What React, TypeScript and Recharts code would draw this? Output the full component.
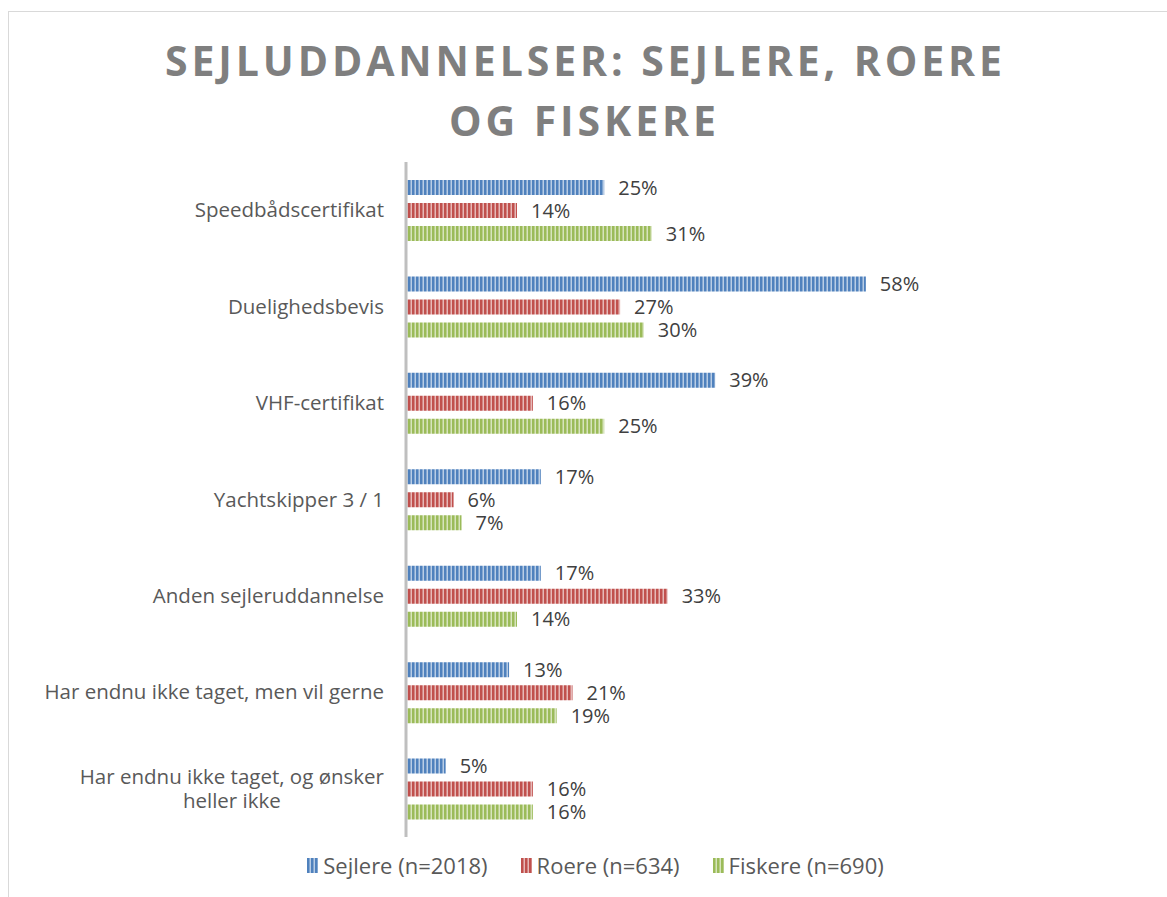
import { Bar, BarChart, LabelList, Legend, XAxis, YAxis } from 'recharts';

const categories = [
  'Speedbådscertifikat',
  'Duelighedsbevis',
  'VHF-certifikat',
  'Yachtskipper 3 / 1',
  'Anden sejleruddannelse',
  'Har endnu ikke taget, men vil gerne',
  'Har endnu ikke taget, og ønsker|heller ikke',
];
const sejlere = [25, 58, 39, 17, 17, 13, 5];
const roere = [14, 27, 16, 6, 33, 21, 16];
const fiskere = [31, 30, 25, 7, 14, 19, 16];

const seriesNames = ['Sejlere (n=2018)', 'Roere (n=634)', 'Fiskere (n=690)'];

const FONT = '"Open Sans", sans-serif';
const CAT_SIZE = 20.5;

const series = [
  { key: 'sejlere', name: seriesNames[0], color: '#4F81BD', light: '#B9CDE5' },
  { key: 'roere', name: seriesNames[1], color: '#C0504D', light: '#E6B9B8' },
  { key: 'fiskere', name: seriesNames[2], color: '#9BBB59', light: '#D7E4BD' },
];

const data = categories.map((cat, i) => ({
  cat,
  sejlere: sejlere[i],
  roere: roere[i],
  fiskere: fiskere[i],
}));

function measure(text: string, font: string) {
  const c = document.createElement('canvas').getContext('2d');
  if (!c) return text.length * 9;
  c.font = font;
  return c.measureText(text).width;
}

function CategoryTick(props: any) {
  const { x, y, payload } = props;
  const lines = String(payload.value).split('|');
  if (lines.length === 1) {
    return (
      <text x={x} y={y} dy={7} textAnchor="end" fill="#595959" fontSize={CAT_SIZE} fontFamily={FONT}>
        {lines[0]}
      </text>
    );
  }
  const w = measure(lines[0], `${CAT_SIZE}px ${FONT}`);
  return (
    <text x={x - w / 2} y={y} textAnchor="middle" fill="#595959" fontSize={CAT_SIZE} fontFamily={FONT}>
      <tspan x={x - w / 2} dy={-5}>{lines[0]}</tspan>
      <tspan x={x - w / 2} dy={24}>{lines[1]}</tspan>
    </text>
  );
}

function LegendContent() {
  return (
    <div style={{ display: 'flex', justifyContent: 'center', fontFamily: FONT, fontSize: 22, color: '#595959' }}>
      {series.map((s, i) => (
        <div key={s.key} style={{ display: 'flex', alignItems: 'center', marginLeft: i ? 33 : 0 }}>
          <svg width={11} height={15} style={{ marginRight: 5 }}>
            <rect width={11} height={15} fill={`url(#pat-${s.key})`} />
          </svg>
          <span>{s.name}</span>
        </div>
      ))}
    </div>
  );
}

export default function App() {
  return (
    <div style={{ position: 'absolute', left: 0, top: 0, width: 1167, height: 897, background: '#fff' }}>
      <svg width={0} height={0} style={{ position: 'absolute' }}>
        <defs>
          {series.map((s) => (
            <pattern key={s.key} id={`pat-${s.key}`} width={4} height={4} patternUnits="userSpaceOnUse">
              <rect width={4} height={4} fill={s.color} />
              <rect x={2.5} width={1.5} height={4} fill={s.light} />
            </pattern>
          ))}
        </defs>
      </svg>
      <div
        style={{
          position: 'absolute',
          left: 8,
          top: 11,
          width: 1159,
          height: 886,
          borderLeft: '1px solid #d9d9d9',
          borderTop: '1px solid #d9d9d9',
        }}
      />
      <svg width={1167} height={150} style={{ position: 'absolute', left: 0, top: 0 }}>
        <text x={165} y={76} textLength={837} lengthAdjust="spacing" fill="#7F7F7F" fontSize={41} fontWeight={700} fontFamily={FONT}>
          SEJLUDDANNELSER: SEJLERE, ROERE
        </text>
        <text x={449} y={136} textLength={267} lengthAdjust="spacing" fill="#7F7F7F" fontSize={41} fontWeight={700} fontFamily={FONT}>
          OG FISKERE
        </text>
      </svg>
      <div style={{ position: 'absolute', left: 0, top: 0 }}>
        <BarChart
          width={1167}
          height={897}
          data={data}
          layout="vertical"
          margin={{ top: 162, right: 206, bottom: 60, left: 0 }}
          barGap={8}
          barSize={15}
        >
          <XAxis type="number" domain={[0, 70]} hide />
          <YAxis
            type="category"
            dataKey="cat"
            width={406}
            axisLine={{ stroke: '#BFBFBF', strokeWidth: 3 }}
            tickLine={false}
            tick={<CategoryTick />}
            tickMargin={16}
            interval={0}
          />
          <Legend
            verticalAlign="middle"
            align="center"
            layout="horizontal"
            wrapperStyle={{ top: 850, left: 12, width: 1167 }}
            content={<LegendContent />}
          />
          {series.map((s) => (
            <Bar key={s.key} dataKey={s.key} name={s.name} fill={`url(#pat-${s.key})`} isAnimationActive={false}>
              <LabelList
                dataKey={s.key}
                position="right"
                offset={14}
                formatter={(v: any) => `${v}%`}
                fill="#404040"
                fontSize={20}
                fontFamily={FONT}
              />
            </Bar>
          ))}
        </BarChart>
      </div>
    </div>
  );
}
